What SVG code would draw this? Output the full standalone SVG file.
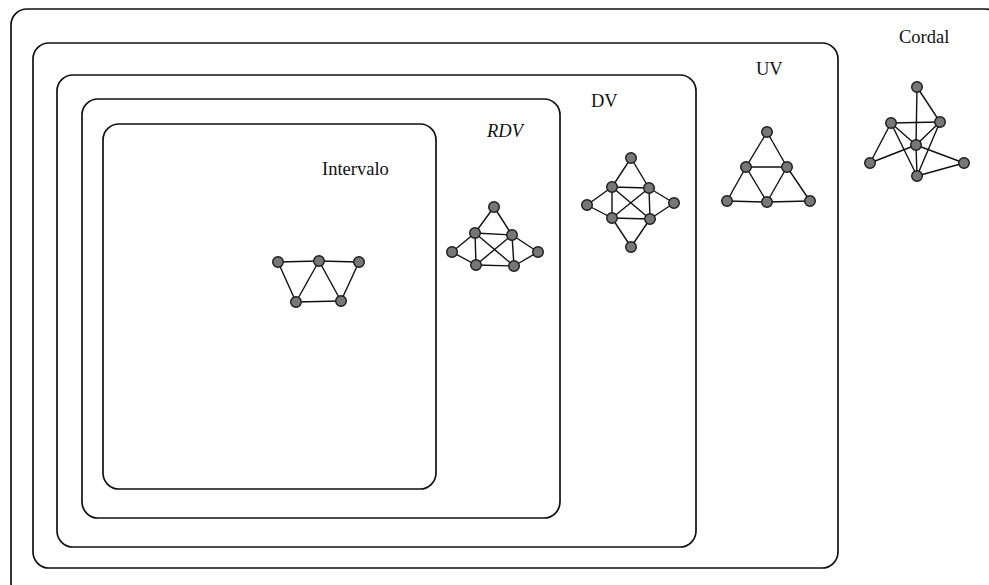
<svg xmlns="http://www.w3.org/2000/svg" width="989" height="585" viewBox="0 0 989 585">
  <style>
    .region { fill: none; stroke: #111; stroke-width: 1.7; }
    .label { font-family: "Liberation Serif", "Times New Roman", serif; font-size: 18.5px; fill: #111; }
    .edges line { stroke: #111; stroke-width: 1.4; }
    .v { fill: #777; stroke: #1b1b1b; stroke-width: 1.4; }
  </style>

  <rect width="989" height="585" fill="#fff"/>

  <!-- nested class regions -->
  <g id="cordal">
    <rect class="region" x="11" y="9" width="990" height="590" rx="16"/>
    <text class="label" x="899" y="43">Cordal</text>
  </g>
  <g id="uv">
    <rect class="region" x="33" y="43" width="805" height="525" rx="16"/>
    <text class="label" x="756" y="75">UV</text>
  </g>
  <g id="dv">
    <rect class="region" x="57" y="75" width="639" height="472" rx="16"/>
    <text class="label" x="591" y="107">DV</text>
  </g>
  <g id="rdv">
    <rect class="region" x="82" y="99" width="478" height="419" rx="16"/>
    <text class="label" x="487" y="137" font-style="italic">RDV</text>
  </g>
  <g id="intervalo">
    <rect class="region" x="103" y="124" width="333" height="365" rx="16"/>
    <text class="label" x="322" y="175">Intervalo</text>
  </g>

  <!-- example graph: chordal -->
  <g id="graph-cordal">
    <g class="edges">
      <line x1="917" y1="87" x2="916" y2="145"/>
      <line x1="916" y1="145" x2="917" y2="176"/>
      <line x1="917" y1="87" x2="940" y2="122"/>
      <line x1="891" y1="123" x2="940" y2="122"/>
      <line x1="891" y1="123" x2="916" y2="145"/>
      <line x1="891" y1="123" x2="870" y2="163"/>
      <line x1="891" y1="123" x2="917" y2="176"/>
      <line x1="940" y1="122" x2="916" y2="145"/>
      <line x1="940" y1="122" x2="917" y2="176"/>
      <line x1="916" y1="145" x2="870" y2="163"/>
      <line x1="916" y1="145" x2="964" y2="163"/>
      <line x1="917" y1="176" x2="964" y2="163"/>
    </g>
    <g id="cordal-v1"><circle class="v" cx="917" cy="87" r="5.3"/></g>
    <g id="cordal-v2"><circle class="v" cx="891" cy="123" r="5.3"/></g>
    <g id="cordal-v3"><circle class="v" cx="940" cy="122" r="5.3"/></g>
    <g id="cordal-v4"><circle class="v" cx="916" cy="145" r="5.3"/></g>
    <g id="cordal-v5"><circle class="v" cx="870" cy="163" r="5.3"/></g>
    <g id="cordal-v6"><circle class="v" cx="917" cy="176" r="5.3"/></g>
    <g id="cordal-v7"><circle class="v" cx="964" cy="163" r="5.3"/></g>
  </g>

  <!-- example graph: UV -->
  <g id="graph-uv">
    <g class="edges">
      <line x1="767" y1="132" x2="746" y2="167"/>
      <line x1="767" y1="132" x2="787" y2="167"/>
      <line x1="746" y1="167" x2="787" y2="167"/>
      <line x1="746" y1="167" x2="727" y2="201"/>
      <line x1="746" y1="167" x2="767" y2="202"/>
      <line x1="787" y1="167" x2="767" y2="202"/>
      <line x1="787" y1="167" x2="810" y2="201"/>
      <line x1="727" y1="201" x2="767" y2="202"/>
      <line x1="767" y1="202" x2="810" y2="201"/>
    </g>
    <g id="uv-v1"><circle class="v" cx="767" cy="132" r="5.3"/></g>
    <g id="uv-v2"><circle class="v" cx="746" cy="167" r="5.3"/></g>
    <g id="uv-v3"><circle class="v" cx="787" cy="167" r="5.3"/></g>
    <g id="uv-v4"><circle class="v" cx="727" cy="201" r="5.3"/></g>
    <g id="uv-v5"><circle class="v" cx="767" cy="202" r="5.3"/></g>
    <g id="uv-v6"><circle class="v" cx="810" cy="201" r="5.3"/></g>
  </g>

  <!-- example graph: DV -->
  <g id="graph-dv">
    <g class="edges">
      <line x1="631" y1="158" x2="612" y2="187"/>
      <line x1="631" y1="158" x2="649" y2="188"/>
      <line x1="612" y1="187" x2="649" y2="188"/>
      <line x1="612" y1="187" x2="587" y2="205"/>
      <line x1="612" y1="187" x2="612" y2="218"/>
      <line x1="612" y1="187" x2="650" y2="219"/>
      <line x1="649" y1="188" x2="612" y2="218"/>
      <line x1="649" y1="188" x2="650" y2="219"/>
      <line x1="649" y1="188" x2="674" y2="203"/>
      <line x1="587" y1="205" x2="612" y2="218"/>
      <line x1="612" y1="218" x2="650" y2="219"/>
      <line x1="674" y1="203" x2="650" y2="219"/>
      <line x1="612" y1="218" x2="631" y2="247"/>
      <line x1="650" y1="219" x2="631" y2="247"/>
    </g>
    <g id="dv-v1"><circle class="v" cx="631" cy="158" r="5.3"/></g>
    <g id="dv-v2"><circle class="v" cx="612" cy="187" r="5.3"/></g>
    <g id="dv-v3"><circle class="v" cx="649" cy="188" r="5.3"/></g>
    <g id="dv-v4"><circle class="v" cx="587" cy="205" r="5.3"/></g>
    <g id="dv-v5"><circle class="v" cx="674" cy="203" r="5.3"/></g>
    <g id="dv-v6"><circle class="v" cx="612" cy="218" r="5.3"/></g>
    <g id="dv-v7"><circle class="v" cx="650" cy="219" r="5.3"/></g>
    <g id="dv-v8"><circle class="v" cx="631" cy="247" r="5.3"/></g>
  </g>

  <!-- example graph: RDV -->
  <g id="graph-rdv">
    <g class="edges">
      <line x1="494" y1="207" x2="475" y2="233"/>
      <line x1="494" y1="207" x2="512" y2="235"/>
      <line x1="475" y1="233" x2="512" y2="235"/>
      <line x1="475" y1="233" x2="452" y2="252"/>
      <line x1="475" y1="233" x2="476" y2="265"/>
      <line x1="475" y1="233" x2="514" y2="266"/>
      <line x1="512" y1="235" x2="476" y2="265"/>
      <line x1="512" y1="235" x2="514" y2="266"/>
      <line x1="512" y1="235" x2="538" y2="252"/>
      <line x1="452" y1="252" x2="476" y2="265"/>
      <line x1="476" y1="265" x2="514" y2="266"/>
      <line x1="514" y1="266" x2="538" y2="252"/>
    </g>
    <g id="rdv-v1"><circle class="v" cx="494" cy="207" r="5.3"/></g>
    <g id="rdv-v2"><circle class="v" cx="475" cy="233" r="5.3"/></g>
    <g id="rdv-v3"><circle class="v" cx="512" cy="235" r="5.3"/></g>
    <g id="rdv-v4"><circle class="v" cx="452" cy="252" r="5.3"/></g>
    <g id="rdv-v5"><circle class="v" cx="538" cy="252" r="5.3"/></g>
    <g id="rdv-v6"><circle class="v" cx="476" cy="265" r="5.3"/></g>
    <g id="rdv-v7"><circle class="v" cx="514" cy="266" r="5.3"/></g>
  </g>

  <!-- example graph: interval -->
  <g id="graph-intervalo">
    <g class="edges">
      <line x1="278" y1="262" x2="319" y2="261"/>
      <line x1="319" y1="261" x2="359" y2="262"/>
      <line x1="278" y1="262" x2="296" y2="302"/>
      <line x1="319" y1="261" x2="296" y2="302"/>
      <line x1="319" y1="261" x2="341" y2="301"/>
      <line x1="359" y1="262" x2="341" y2="301"/>
      <line x1="296" y1="302" x2="341" y2="301"/>
    </g>
    <g id="intervalo-v1"><circle class="v" cx="278" cy="262" r="5.3"/></g>
    <g id="intervalo-v2"><circle class="v" cx="319" cy="261" r="5.3"/></g>
    <g id="intervalo-v3"><circle class="v" cx="359" cy="262" r="5.3"/></g>
    <g id="intervalo-v4"><circle class="v" cx="296" cy="302" r="5.3"/></g>
    <g id="intervalo-v5"><circle class="v" cx="341" cy="301" r="5.3"/></g>
  </g>
</svg>
